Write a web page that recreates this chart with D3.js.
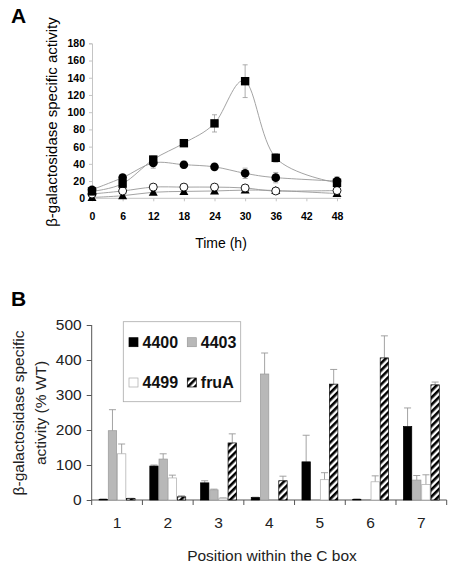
<!DOCTYPE html>
<html><head><meta charset="utf-8">
<script src="https://cdn.jsdelivr.net/npm/d3@7/dist/d3.min.js"></script>
<style>html,body{margin:0;padding:0;background:#fff;} svg{display:block;font-family:"Liberation Sans",Arial,sans-serif;}</style>
</head><body><svg id="c" width="454" height="568"></svg>
<script>
// Panel A data
const timeHours = [0, 6, 12, 18, 24, 30, 36, 48];
const timeTicks = [0, 6, 12, 18, 24, 30, 36, 42, 48];
const activityTicksA = [0, 20, 40, 60, 80, 100, 120, 140, 160, 180];
const squareValues = [8, 17, 45, 64, 87, 136, 47, 18];
const squareErrors = [2, 3, 4, 3, 10, 19, 5, 7];
const filledCircleValues = [10, 24, 41, 39, 36.5, 29, 24, 20];
const filledCircleErrors = [2, 3, 6, 4, 3, 6, 6, 3];
const openCircleValues = [5, 8.5, 13, 13, 13, 12, 8.5, 9];
const openCircleErrors = [1, 1, 2, 2, 2, 2, 2, 2];
const triangleValues = [1, 3, 7, 8, 8.5, 9.5, 9, 5.5];
const triangleErrors = [0.5, 1, 1, 1, 1, 1, 2, 2];

// Panel B data
const positions = ["1", "2", "3", "4", "5", "6", "7"];
const strains = ["4400", "4403", "4499", "fruA"];
const activityTicksB = [0, 100, 200, 300, 400, 500];
const values4400 = [2, 97, 49, 7, 109, 2, 210];
const errors4400 = [1, 3, 6, 1, 76, 1, 53];
const values4403 = [198, 117, 29, 360, 0, 1, 57];
const errors4403 = [60, 15, 2, 60, 0, 0, 13];
const values4499 = [132, 63, 5, 0, 58, 52, 44];
const errors4499 = [28, 8, 1, 0, 20, 17, 28];
const valuesFruA = [4, 9, 163, 55, 331, 406, 329];
const errorsFruA = [1, 3, 26, 13, 42, 63, 8];

const svg = d3.select("#c");
const defs = svg.append("defs");
const pat = defs.append("pattern").attr("id", "stripes").attr("patternUnits", "userSpaceOnUse")
  .attr("width", 5).attr("height", 5).attr("patternTransform", "rotate(45)");
pat.append("rect").attr("width", 5).attr("height", 5).attr("fill", "#fff");
pat.append("rect").attr("width", 2.6).attr("height", 5).attr("fill", "#000");

// ---------- Panel A ----------
const xA = d3.scaleLinear().domain([0, 48]).range([92, 337]);
const yA = d3.scaleLinear().domain([0, 180]).range([198.3, 43.3]);
const gA = svg.append("g");
const axisCol = "#c4c4c4";

gA.append("text").attr("x", 11).attr("y", 23).attr("font-size", 21).attr("font-weight", "bold").text("A");

const yAxisA = d3.axisLeft(yA).tickValues(activityTicksA).tickSize(3).tickPadding(4);
const yAG = gA.append("g").attr("transform", `translate(${xA(0)},0)`).call(yAxisA);
yAG.select(".domain").attr("stroke", axisCol);
yAG.selectAll(".tick line").attr("stroke", axisCol);
yAG.selectAll("text").attr("font-size", 10.5).attr("font-weight", "bold").attr("fill", "#000")
  .attr("font-family", "Liberation Sans, Arial, sans-serif");

const xAxisA = d3.axisBottom(xA).tickValues(timeTicks).tickSize(3).tickPadding(11).tickSizeOuter(0);
const xAG = gA.append("g").attr("transform", `translate(0,${yA(0)})`).call(xAxisA);
xAG.select(".domain").attr("stroke", axisCol).attr("d", `M${xA(0)},0H${xA(48) + 4}`);
xAG.selectAll(".tick line").attr("stroke", axisCol);
xAG.selectAll("text").attr("font-size", 10.5).attr("font-weight", "bold").attr("fill", "#000")
  .attr("font-family", "Liberation Sans, Arial, sans-serif");

gA.append("text").attr("x", 221).attr("y", 248).attr("text-anchor", "middle").attr("font-size", 14)
  .text("Time (h)");
gA.append("text").attr("transform", "translate(57,122) rotate(-90)").attr("text-anchor", "middle")
  .attr("font-size", 15).text("β-galactosidase specific activity");

const seriesA = [
  {vals: squareValues, errs: squareErrors, shape: "square"},
  {vals: filledCircleValues, errs: filledCircleErrors, shape: "circle"},
  {vals: openCircleValues, errs: openCircleErrors, shape: "open"},
  {vals: triangleValues, errs: triangleErrors, shape: "triangle"}
];
const lineA = d3.line().x((d, i) => xA(timeHours[i])).y(d => yA(d)).curve(d3.curveCardinal.tension(0));
seriesA.forEach(s => {
  const eg = gA.append("g").attr("stroke", "#999").attr("stroke-width", 0.8);
  s.vals.forEach((v, i) => {
    const x = xA(timeHours[i]);
    eg.append("line").attr("x1", x).attr("x2", x).attr("y1", yA(v + s.errs[i])).attr("y2", yA(Math.max(0, v - s.errs[i])));
    eg.append("line").attr("x1", x - 2.5).attr("x2", x + 2.5).attr("y1", yA(v + s.errs[i])).attr("y2", yA(v + s.errs[i]));
    eg.append("line").attr("x1", x - 2.5).attr("x2", x + 2.5).attr("y1", yA(Math.max(0, v - s.errs[i]))).attr("y2", yA(Math.max(0, v - s.errs[i])));
  });
});
seriesA.forEach(s => {
  gA.append("path").attr("d", lineA(s.vals)).attr("fill", "none").attr("stroke", "#999").attr("stroke-width", 0.9);
});
seriesA.slice().reverse().forEach(s => {
  const mg = gA.append("g");
  s.vals.forEach((v, i) => {
    const x = xA(timeHours[i]), y = yA(v);
    if (s.shape === "square") mg.append("rect").attr("x", x - 4.2).attr("y", y - 4.2).attr("width", 8.4).attr("height", 8.4).attr("fill", "#000");
    else if (s.shape === "circle") mg.append("circle").attr("cx", x).attr("cy", y).attr("r", 4.3).attr("fill", "#000");
    else if (s.shape === "open") mg.append("circle").attr("cx", x).attr("cy", y).attr("r", 4).attr("fill", "#fff").attr("stroke", "#000").attr("stroke-width", 0.9);
    else mg.append("path").attr("d", `M${x},${y - 4.5}L${x + 4.5},${y + 3.5}L${x - 4.5},${y + 3.5}Z`).attr("fill", "#000");
  });
});

// ---------- Panel B ----------
const xB = d3.scaleBand().domain(positions).range([91.7, 446.7]).paddingInner(0).paddingOuter(0);
const xB1 = d3.scaleBand().domain(strains).range([7, xB.bandwidth() - 7]);
const yB = d3.scaleLinear().domain([0, 500]).range([500, 325]);
const gB = svg.append("g");
const bCol = "#555";

gB.append("text").attr("x", 11).attr("y", 306).attr("font-size", 21).attr("font-weight", "bold").text("B");

const yAxisB = d3.axisLeft(yB).tickValues(activityTicksB).tickSize(5).tickPadding(5);
const yBG = gB.append("g").attr("transform", `translate(91.7,0)`).call(yAxisB);
yBG.select(".domain").attr("stroke", bCol).attr("d", `M0,${yB(0)}V${yB(500)}`);
yBG.selectAll(".tick line").attr("stroke", bCol);
yBG.selectAll("text").attr("font-size", 15.5).attr("fill", "#222").attr("font-family", "Liberation Sans, Arial, sans-serif");

const xBG = gB.append("g").attr("transform", `translate(0,${yB(0)})`);
xBG.append("line").attr("x1", 91.7).attr("x2", 446.7).attr("y1", 0).attr("y2", 0).attr("stroke", bCol);
const bounds = positions.map(p => xB(p)).concat([xB(positions[positions.length - 1]) + xB.bandwidth()]);
bounds.forEach(b => xBG.append("line").attr("x1", b).attr("x2", b).attr("y1", 0).attr("y2", 5).attr("stroke", bCol));
positions.forEach(p => xBG.append("text").attr("x", xB(p) + xB.bandwidth() / 2).attr("y", 28).attr("text-anchor", "middle")
  .attr("font-size", 15.5).attr("fill", "#222").text(p));

gB.append("text").attr("x", 272).attr("y", 561).attr("text-anchor", "middle").attr("font-size", 15.5).attr("fill", "#222")
  .text("Position within the C box");
gB.append("text").attr("transform", "translate(24,413) rotate(-90)").attr("text-anchor", "middle").attr("font-size", 15.5).attr("fill", "#222")
  .text("β-galactosidase specific");
gB.append("text").attr("transform", "translate(46,413) rotate(-90)").attr("text-anchor", "middle").attr("font-size", 15.5).attr("fill", "#222")
  .text("activity (% WT)");

const seriesB = [
  {name: "4400", vals: values4400, errs: errors4400, fill: "#000", stroke: "#000"},
  {name: "4403", vals: values4403, errs: errors4403, fill: "#b8b8b8", stroke: "#999"},
  {name: "4499", vals: values4499, errs: errors4499, fill: "#fff", stroke: "#aaa"},
  {name: "fruA", vals: valuesFruA, errs: errorsFruA, fill: "url(#stripes)", stroke: "#000"}
];
seriesB.forEach(s => {
  const g = gB.append("g");
  positions.forEach((p, i) => {
    const v = s.vals[i];
    const x = xB(p) + xB1(s.name), w = xB1.bandwidth();
    if (s.errs[i] > 0) {
      const cx = x + w / 2;
      g.append("line").attr("x1", cx).attr("x2", cx).attr("y1", yB(v)).attr("y2", yB(v + s.errs[i])).attr("stroke", "#999").attr("stroke-width", 0.9);
      g.append("line").attr("x1", cx - 3.5).attr("x2", cx + 3.5).attr("y1", yB(v + s.errs[i])).attr("y2", yB(v + s.errs[i])).attr("stroke", "#999").attr("stroke-width", 0.9);
    }
    if (v > 0) g.append("rect").attr("x", x + 0.4).attr("y", yB(v)).attr("width", w - 0.8).attr("height", yB(0) - yB(v))
      .attr("fill", s.fill).attr("stroke", s.stroke).attr("stroke-width", 0.7);
  });
});

// Legend
const lg = gB.append("g");
lg.append("rect").attr("x", 123.3).attr("y", 321.7).attr("width", 117.4).attr("height", 80).attr("fill", "#fff").attr("stroke", "#aaa").attr("stroke-width", 0.8);
const legendPos = [[129, 347.7], [187.3, 347.7], [129, 388], [187.3, 388]];
seriesB.forEach((s, i) => {
  const [lx, ly] = legendPos[i];
  lg.append("rect").attr("x", lx).attr("y", ly - 10).attr("width", 9).attr("height", 9)
    .attr("fill", s.fill).attr("stroke", s.stroke).attr("stroke-width", 0.7);
  lg.append("text").attr("x", lx + 13.5).attr("y", ly).attr("font-size", 16).attr("font-weight", "bold").attr("fill", "#111").text(s.name);
});
</script></body></html>
